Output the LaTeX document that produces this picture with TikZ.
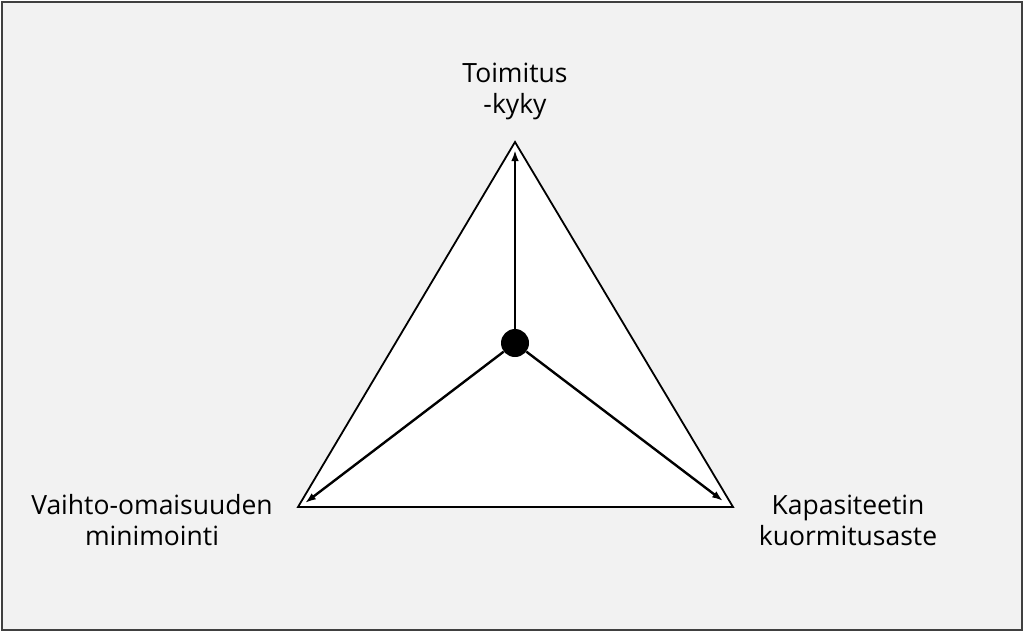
\documentclass[tikz,border=0pt]{standalone}
\usepackage{fontspec}
\setmainfont{Open Sans}
\usetikzlibrary{arrows.meta}
\definecolor{pagegray}{HTML}{F2F2F2}
\definecolor{framegray}{HTML}{404040}
\tikzset{
  goal/.style={align=center, font=\fontsize{26.5}{31}\selectfont},
  axis/.style={line width=2.4pt, -{Latex[length=11pt,width=7.5pt]}},
}
\begin{document}
\begin{tikzpicture}[x=1pt,y=-1pt]
\useasboundingbox (0,0) rectangle (1024,632);
\draw[fill=pagegray, draw=framegray, line width=1.6pt] (2,2) rectangle (1022,630);
\coordinate (T) at (515,142);
\coordinate (L) at (298,507);
\coordinate (R) at (733,507);
\draw[fill=white, line width=1.8pt, line join=miter] (T) -- (R) -- (L) -- cycle;
\node[circle, fill=black, inner sep=0pt, minimum size=28pt] (M) at (515,343) {};
\draw[axis] (M) -- (515,150);
\draw[axis] (M) -- (305,503);
\draw[axis] (M) -- (723,501);
\node[goal] (toim) at (515,91) {Toimitus\\-kyky};
\node[goal] (vaih) at (152,520) {Vaihto-omaisuuden\\minimointi};
\node[goal] (kapa) at (848,520) {Kapasiteetin\\kuormitusaste};
\end{tikzpicture}
\end{document}
